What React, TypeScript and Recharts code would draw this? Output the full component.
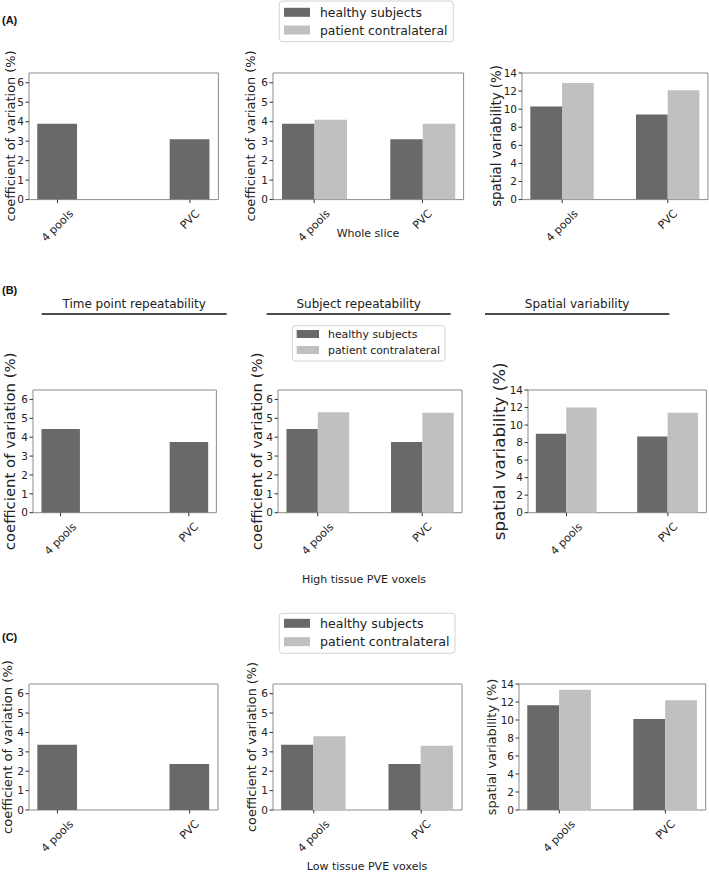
import React from 'react';
import { BarChart, Bar, XAxis, YAxis, ReferenceArea } from 'recharts';

const categories = ['4 pools', 'PVC'];
const seriesNames = ['healthy subjects', 'patient contralateral'];
const cvTicks = [0, 1, 2, 3, 4, 5, 6];
const svTicks = [0, 2, 4, 6, 8, 10, 12, 14];

// (A) whole slice
const wholeCvHealthy = [3.9, 3.1];
const wholeCvPatient = [4.1, 3.9];
const wholeSvHealthy = [10.3, 9.4];
const wholeSvPatient = [12.9, 12.1];

// (B) high tissue PVE voxels
const highCvHealthy = [4.44, 3.75];
const highCvPatient = [5.32, 5.3];
const highSvHealthy = [9.0, 8.7];
const highSvPatient = [12.0, 11.4];

// (C) low tissue PVE voxels
const lowCvHealthy = [3.36, 2.37];
const lowCvPatient = [3.8, 3.31];
const lowSvHealthy = [11.65, 10.1];
const lowSvPatient = [13.35, 12.2];

const DARK = '#696969';
const LIGHT = '#c0c0c0';
const FONT = '"DejaVu Sans", sans-serif';
const TEXT = '#222';

// rough DejaVu Sans advance widths (em) for the tick labels
const charEm: Record<string, number> = {
  '4': 0.636, ' ': 0.318, p: 0.635, o: 0.612, l: 0.278, s: 0.521, P: 0.603, V: 0.684, C: 0.698,
};

function rows(healthy: number[], patient?: number[]) {
  return categories.map((name, i) => ({
    x: i,
    name,
    healthy: healthy[i],
    patient: patient ? patient[i] : undefined,
  }));
}

function SlantTick(props: any) {
  const { x, y, payload } = props;
  const label = categories[payload.value] ?? '';
  const fs = 11;
  const len = label.split('').reduce((s, c) => s + (charEm[c] ?? 0.6), 0) * fs;
  const d = ((len + 0.94 * fs) * 0.7071) / 2;
  return (
    <g transform={`translate(${x},${y + d}) rotate(-45)`}>
      <text x={0} y={0} textAnchor="middle" dominantBaseline="central" fontSize={fs} fontFamily={FONT} fill={TEXT}>
        {label}
      </text>
    </g>
  );
}

type PanelProps = {
  box: [number, number, number, number];
  healthy: number[];
  patient?: number[];
  yMax: number;
  yTicks: number[];
  label: string;
  labelX: number;
  labelSize: number;
};

function Panel({ box, healthy, patient, yMax, yTicks }: PanelProps) {
  const [bx, by, bw, bh] = box;
  const L = 34;
  const T = 12;
  const R = 6;
  const B = 60;
  const pad = patient ? 0.38 : 0.215;
  const barSize = (0.3 * bw) / (1 + 2 * pad);
  const data = rows(healthy, patient);
  return (
    <div style={{ position: 'absolute', left: bx - L, top: by - T }}>
      <BarChart
        width={bw + L + R}
        height={bh + T + B}
        data={data}
        margin={{ top: T, right: R, left: 0, bottom: 0 }}
        barGap={0}
      >
        <XAxis
          dataKey="x"
          type="number"
          domain={[-pad, 1 + pad]}
          ticks={[0, 1]}
          interval={0}
          height={B}
          axisLine={false}
          tickSize={3.5}
          tickMargin={5}
          tickLine={{ stroke: '#333' }}
          tick={<SlantTick />}
          allowDataOverflow
        />
        <YAxis
          type="number"
          domain={[0, yMax]}
          ticks={yTicks}
          interval={0}
          width={L}
          axisLine={false}
          tickSize={3.5}
          tickMargin={1.5}
          tickLine={{ stroke: '#333' }}
          tick={{ fill: TEXT, fontSize: 10.5, fontFamily: FONT }}
          allowDataOverflow
        />
        <Bar dataKey="healthy" fill={DARK} barSize={barSize} isAnimationActive={false} />
        {patient && <Bar dataKey="patient" fill={LIGHT} barSize={barSize} isAnimationActive={false} />}
        <ReferenceArea
          x1={-pad}
          x2={1 + pad}
          y1={0}
          y2={yMax}
          fill="none"
          fillOpacity={0}
          stroke="#8c8c8c"
          strokeWidth={1}
          ifOverflow="visible"
        />
      </BarChart>
    </div>
  );
}

const CV = 'coefficient of variation (%)';
const SV = 'spatial variability (%)';

const panels: PanelProps[] = [
  { box: [29.3, 72.7, 189.4, 126.6], healthy: wholeCvHealthy, yMax: 6.5, yTicks: cvTicks, label: CV, labelX: 10, labelSize: 12.9 },
  { box: [272.7, 72.7, 190.6, 126.6], healthy: wholeCvHealthy, patient: wholeCvPatient, yMax: 6.5, yTicks: cvTicks, label: CV, labelX: 250.5, labelSize: 12.9 },
  { box: [522.3, 72.7, 186, 126.6], healthy: wholeSvHealthy, patient: wholeSvPatient, yMax: 14, yTicks: svTicks, label: SV, labelX: 496, labelSize: 13.3 },
  { box: [33.3, 390, 183.4, 122.7], healthy: highCvHealthy, yMax: 6.5, yTicks: cvTicks, label: CV, labelX: 9.5, labelSize: 14.9 },
  { box: [277.7, 390, 184, 122.7], healthy: highCvHealthy, patient: highCvPatient, yMax: 6.5, yTicks: cvTicks, label: CV, labelX: 257, labelSize: 14.9 },
  { box: [528.3, 390, 178.4, 122.7], healthy: highSvHealthy, patient: highSvPatient, yMax: 14, yTicks: svTicks, label: SV, labelX: 499, labelSize: 16.7 },
  { box: [29.3, 684, 189, 126], healthy: lowCvHealthy, yMax: 6.5, yTicks: cvTicks, label: CV, labelX: 7, labelSize: 13.1 },
  { box: [272.7, 684, 189, 126], healthy: lowCvHealthy, patient: lowCvPatient, yMax: 6.5, yTicks: cvTicks, label: CV, labelX: 251, labelSize: 12.8 },
  { box: [519.3, 684, 186.7, 126], healthy: lowSvHealthy, patient: lowSvPatient, yMax: 14, yTicks: svTicks, label: SV, labelX: 491, labelSize: 12.8 },
];

type LegendBox = { x: number; y: number; w: number; h: number; rowY: number[]; sw: number; sh: number; sx: number; tx: number; fs: number };

const legends: LegendBox[] = [
  { x: 279.3, y: 1, w: 174, h: 40.7, rowY: [12.3, 30], sw: 26, sh: 9, sx: 284, tx: 320, fs: 12.4 },
  { x: 292.3, y: 325.7, w: 152.7, h: 35.3, rowY: [334, 350], sw: 22.3, sh: 8, sx: 296.7, tx: 328, fs: 10.9 },
  { x: 279.3, y: 613.3, w: 175.7, h: 40, rowY: [623.3, 641.7], sw: 26, sh: 9, sx: 284, tx: 320, fs: 12.6 },
];

const headers = [
  { text: 'Time point repeatability', x1: 41.7, x2: 226.7 },
  { text: 'Subject repeatability', x1: 266.7, x2: 450.7 },
  { text: 'Spatial variability', x1: 485, x2: 669.3 },
];

const xLabels = [
  { text: 'Whole slice', x: 368, y: 237 },
  { text: 'High tissue PVE voxels', x: 364, y: 583 },
  { text: 'Low tissue PVE voxels', x: 367, y: 870 },
];

const sectionTags = [
  { text: '(A)', y: 24 },
  { text: '(B)', y: 294 },
  { text: '(C)', y: 641 },
];

function Overlay() {
  const colors = [DARK, LIGHT];
  return (
    <svg
      width={709}
      height={872}
      style={{ position: 'absolute', left: 0, top: 0, pointerEvents: 'none' }}
      fontFamily={FONT}
    >
      {sectionTags.map((t) => (
        <text key={t.text} x={2} y={t.y} fontSize={11} fontWeight="bold" fontFamily='"Liberation Sans", Arial, sans-serif' fill="#111">
          {t.text}
        </text>
      ))}
      {headers.map((h) => (
        <g key={h.text}>
          <text x={(h.x1 + h.x2) / 2} y={308} textAnchor="middle" fontSize={12} fill={TEXT}>
            {h.text}
          </text>
          <line x1={h.x1} x2={h.x2} y1={314} y2={314} stroke="#111" strokeWidth={1.5} />
        </g>
      ))}
      {panels.map((p, i) => {
        const cy = p.box[1] + p.box[3] / 2;
        return (
          <g key={i} transform={`translate(${p.labelX},${cy}) rotate(-90)`}>
            <text x={0} y={0} textAnchor="middle" dominantBaseline="central" fontSize={p.labelSize} fill={TEXT}>
              {p.label}
            </text>
          </g>
        );
      })}
      {xLabels.map((l) => (
        <text key={l.text} x={l.x} y={l.y} textAnchor="middle" fontSize={11} fill={TEXT}>
          {l.text}
        </text>
      ))}
      {legends.map((lg, i) => (
        <g key={i}>
          <rect x={lg.x} y={lg.y} width={lg.w} height={lg.h} rx={3} fill="#fff" fillOpacity={0.85} stroke="#d4d4d4" />
          {seriesNames.map((name, j) => (
            <g key={name}>
              <rect x={lg.sx} y={lg.rowY[j] - lg.sh / 2} width={lg.sw} height={lg.sh} fill={colors[j]} />
              <text x={lg.tx} y={lg.rowY[j]} dominantBaseline="central" fontSize={lg.fs} fill={TEXT}>
                {name}
              </text>
            </g>
          ))}
        </g>
      ))}
    </svg>
  );
}

export default function App() {
  return (
    <div
      style={{
        position: 'absolute',
        left: 0,
        top: 0,
        width: 709,
        height: 872,
        overflow: 'hidden',
        background: '#fff',
        fontFamily: FONT,
      }}
    >
      {panels.map((p, i) => (
        <Panel key={i} {...p} />
      ))}
      <Overlay />
    </div>
  );
}
